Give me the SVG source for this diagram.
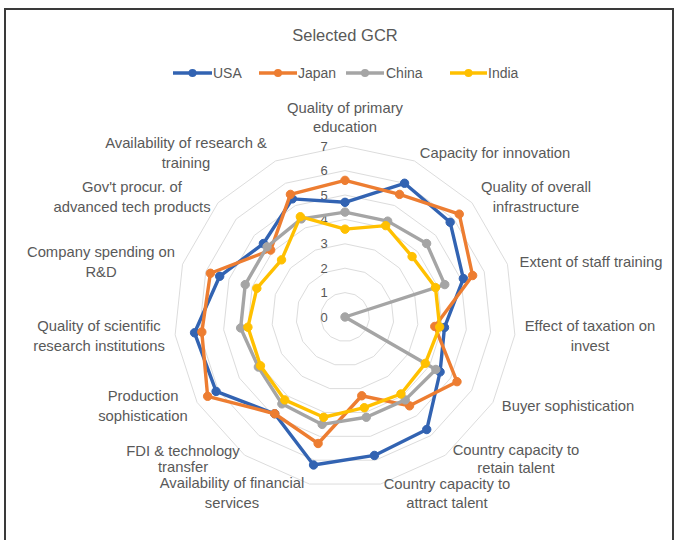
<svg xmlns="http://www.w3.org/2000/svg" xmlns:xlink="http://www.w3.org/1999/xlink" width="678" height="540" viewBox="0 0 678 540">
<defs>
<style>
text{font-family:"Liberation Sans",Arial,sans-serif;fill:#595959}
.lbl{font-size:14.8px;text-anchor:middle}
.ax{font-size:13px;text-anchor:middle}
.ring{fill:none;stroke:#dcdcdc;stroke-width:1;vector-effect:non-scaling-stroke}
.s{fill:none;stroke-width:3.4;stroke-linejoin:round}
.usa{stroke:#3263b2}.usa circle,.mu{fill:#3263b2}
.jpn{stroke:#ed7d31}.jpn circle,.mj{fill:#ed7d31}
.chn{stroke:#a5a5a5}.chn circle,.mc{fill:#a5a5a5}
.ind{stroke:#ffc000}.ind circle,.mi{fill:#ffc000}
</style>
<polygon id="unit" class="ring" points="0,-100 40.674,-91.355 74.314,-66.913 95.106,-30.902 99.452,10.453 86.603,50 58.779,80.902 20.791,97.815 -20.791,97.815 -58.779,80.902 -86.603,50 -99.452,10.453 -95.106,-30.902 -74.314,-66.913 -40.674,-91.355"/>
</defs>
<rect x="0" y="0" width="678" height="540" fill="#ffffff"/>
<rect x="5" y="9" width="668" height="540" fill="#ffffff" stroke="#3a3a3a" stroke-width="2"/>
<text x="345" y="41" style="font-size:16.5px;text-anchor:middle">Selected GCR</text>
<g id="legend">
<line x1="173" y1="73" x2="212" y2="73" class="s usa"/><circle cx="192.5" cy="73" r="4" class="mu"/><text x="213" y="78" style="font-size:14px">USA</text>
<line x1="259" y1="73" x2="297" y2="73" class="s jpn"/><circle cx="278" cy="73" r="4" class="mj"/><text x="298" y="78" style="font-size:14px">Japan</text>
<line x1="346" y1="73" x2="384" y2="73" class="s chn"/><circle cx="365" cy="73" r="4" class="mc"/><text x="386" y="78" style="font-size:14px">China</text>
<line x1="450" y1="73" x2="487" y2="73" class="s ind"/><circle cx="468.5" cy="73" r="4" class="mi"/><text x="488" y="78" style="font-size:14px">India</text>
</g>
<g id="grid">
<use xlink:href="#unit" transform="translate(345,317) scale(0.244)"/>
<use xlink:href="#unit" transform="translate(345,317) scale(0.488)"/>
<use xlink:href="#unit" transform="translate(345,317) scale(0.732)"/>
<use xlink:href="#unit" transform="translate(345,317) scale(0.976)"/>
<use xlink:href="#unit" transform="translate(345,317) scale(1.22)"/>
<use xlink:href="#unit" transform="translate(345,317) scale(1.464)"/>
<use xlink:href="#unit" transform="translate(345,317) scale(1.708)"/>
</g>
<g id="axis-values">
<text class="ax" x="324" y="321.5">0</text>
<text class="ax" x="324" y="297">1</text>
<text class="ax" x="324" y="272.7">2</text>
<text class="ax" x="324" y="248.3">3</text>
<text class="ax" x="324" y="223.9">4</text>
<text class="ax" x="324" y="199.5">5</text>
<text class="ax" x="324" y="175.1">6</text>
<text class="ax" x="324" y="150.7">7</text>
</g>
<g id="connectors">
<g id="usa" class="usa">
<polygon class="s usa" points="345,202.32 404.55,183.26 450.17,222.3 463.35,278.55 444.49,327.46 440.09,371.9 426.75,429.52 374.42,455.43 313.55,464.98 274.72,413.73 216.1,391.42 194.55,332.81 219.69,276.28 263.4,243.53 292.4,198.86"/>
<circle cx="345" cy="202.32" r="4.2"/><circle cx="404.55" cy="183.26" r="4.2"/><circle cx="450.17" cy="222.3" r="4.2"/><circle cx="463.35" cy="278.55" r="4.2"/><circle cx="444.49" cy="327.46" r="4.2"/><circle cx="440.09" cy="371.9" r="4.2"/><circle cx="426.75" cy="429.52" r="4.2"/><circle cx="374.42" cy="455.43" r="4.2"/><circle cx="313.55" cy="464.98" r="4.2"/><circle cx="274.72" cy="413.73" r="4.2"/><circle cx="216.1" cy="391.42" r="4.2"/><circle cx="194.55" cy="332.81" r="4.2"/><circle cx="219.69" cy="276.28" r="4.2"/><circle cx="263.4" cy="243.53" r="4.2"/><circle cx="292.4" cy="198.86" r="4.2"/>
</g>
<g id="japan" class="jpn">
<polygon class="s jpn" points="345,180.36 399.58,194.4 459.24,214.14 472.63,275.53 434.79,326.44 456.99,381.66 409.54,405.83 361.74,395.76 318.11,443.49 274.72,413.73 207.65,396.3 201.83,332.05 210.41,273.27 270.66,250.06 290.42,194.4"/>
<circle cx="345" cy="180.36" r="4.2"/><circle cx="399.58" cy="194.4" r="4.2"/><circle cx="459.24" cy="214.14" r="4.2"/><circle cx="472.63" cy="275.53" r="4.2"/><circle cx="434.79" cy="326.44" r="4.2"/><circle cx="456.99" cy="381.66" r="4.2"/><circle cx="409.54" cy="405.83" r="4.2"/><circle cx="361.74" cy="395.76" r="4.2"/><circle cx="318.11" cy="443.49" r="4.2"/><circle cx="274.72" cy="413.73" r="4.2"/><circle cx="207.65" cy="396.3" r="4.2"/><circle cx="201.83" cy="332.05" r="4.2"/><circle cx="210.41" cy="273.27" r="4.2"/><circle cx="270.66" cy="250.06" r="4.2"/><circle cx="290.42" cy="194.4" r="4.2"/>
</g>
<g id="china" class="chn">
<polygon class="s chn" points="345,212.08 387.68,221.15 426.6,243.53 444.78,284.58 345,317 435.86,369.46 405.24,399.91 366.31,417.24 322.17,424.4 281.9,403.86 258.36,367.02 240.65,327.97 245.22,284.58 267.03,246.8 301.33,218.92"/>
<circle cx="345" cy="212.08" r="4.2"/><circle cx="387.68" cy="221.15" r="4.2"/><circle cx="426.6" cy="243.53" r="4.2"/><circle cx="444.78" cy="284.58" r="4.2"/><circle cx="345" cy="317" r="4.2"/><circle cx="435.86" cy="369.46" r="4.2"/><circle cx="405.24" cy="399.91" r="4.2"/><circle cx="366.31" cy="417.24" r="4.2"/><circle cx="322.17" cy="424.4" r="4.2"/><circle cx="281.9" cy="403.86" r="4.2"/><circle cx="258.36" cy="367.02" r="4.2"/><circle cx="240.65" cy="327.97" r="4.2"/><circle cx="245.22" cy="284.58" r="4.2"/><circle cx="267.03" cy="246.8" r="4.2"/><circle cx="301.33" cy="218.92" r="4.2"/>
</g>
<g id="india" class="ind">
<polygon class="s ind" points="345,229.16 385.69,225.61 412.09,256.59 435.5,287.59 439.64,326.95 425.3,363.36 400.93,393.99 364.28,407.69 323.69,417.24 284.76,399.91 260.48,365.8 247.93,327.2 256.82,288.35 281.54,259.86 300.34,216.69"/>
<circle cx="345" cy="229.16" r="4.2"/><circle cx="385.69" cy="225.61" r="4.2"/><circle cx="412.09" cy="256.59" r="4.2"/><circle cx="435.5" cy="287.59" r="4.2"/><circle cx="439.64" cy="326.95" r="4.2"/><circle cx="425.3" cy="363.36" r="4.2"/><circle cx="400.93" cy="393.99" r="4.2"/><circle cx="364.28" cy="407.69" r="4.2"/><circle cx="323.69" cy="417.24" r="4.2"/><circle cx="284.76" cy="399.91" r="4.2"/><circle cx="260.48" cy="365.8" r="4.2"/><circle cx="247.93" cy="327.2" r="4.2"/><circle cx="256.82" cy="288.35" r="4.2"/><circle cx="281.54" cy="259.86" r="4.2"/><circle cx="300.34" cy="216.69" r="4.2"/>
</g>
</g>
<g id="n0"><text class="lbl" x="345" y="113">Quality of primary</text><text class="lbl" x="345" y="132">education</text></g>
<g id="n1"><text class="lbl" x="495" y="158">Capacity for innovation</text></g>
<g id="n2"><text class="lbl" x="536" y="192">Quality of overall</text><text class="lbl" x="536" y="212">infrastructure</text></g>
<g id="n3"><text class="lbl" x="591" y="267">Extent of staff training</text></g>
<g id="n4"><text class="lbl" x="590" y="331">Effect of taxation on</text><text class="lbl" x="590" y="351">invest</text></g>
<g id="n5"><text class="lbl" x="568" y="411">Buyer sophistication</text></g>
<g id="n6"><text class="lbl" x="516" y="455">Country capacity to</text><text class="lbl" x="516" y="473">retain talent</text></g>
<g id="n7"><text class="lbl" x="447" y="489">Country capacity to</text><text class="lbl" x="447" y="508">attract talent</text></g>
<g id="n8"><text class="lbl" x="232" y="488">Availability of financial</text><text class="lbl" x="232" y="508">services</text></g>
<g id="n9"><text class="lbl" x="183" y="456">FDI &amp; technology</text><text class="lbl" x="183" y="472">transfer</text></g>
<g id="n10"><text class="lbl" x="143" y="401">Production</text><text class="lbl" x="143" y="421">sophistication</text></g>
<g id="n11"><text class="lbl" x="99" y="331">Quality of scientific</text><text class="lbl" x="99" y="351">research institutions</text></g>
<g id="n12"><text class="lbl" x="101" y="257">Company spending on</text><text class="lbl" x="101" y="277">R&amp;D</text></g>
<g id="n13"><text class="lbl" x="132" y="192">Gov't procur. of</text><text class="lbl" x="132" y="212">advanced tech products</text></g>
<g id="n14"><text class="lbl" x="186" y="148">Availability of research &amp;</text><text class="lbl" x="186" y="168">training</text></g>
</svg>
